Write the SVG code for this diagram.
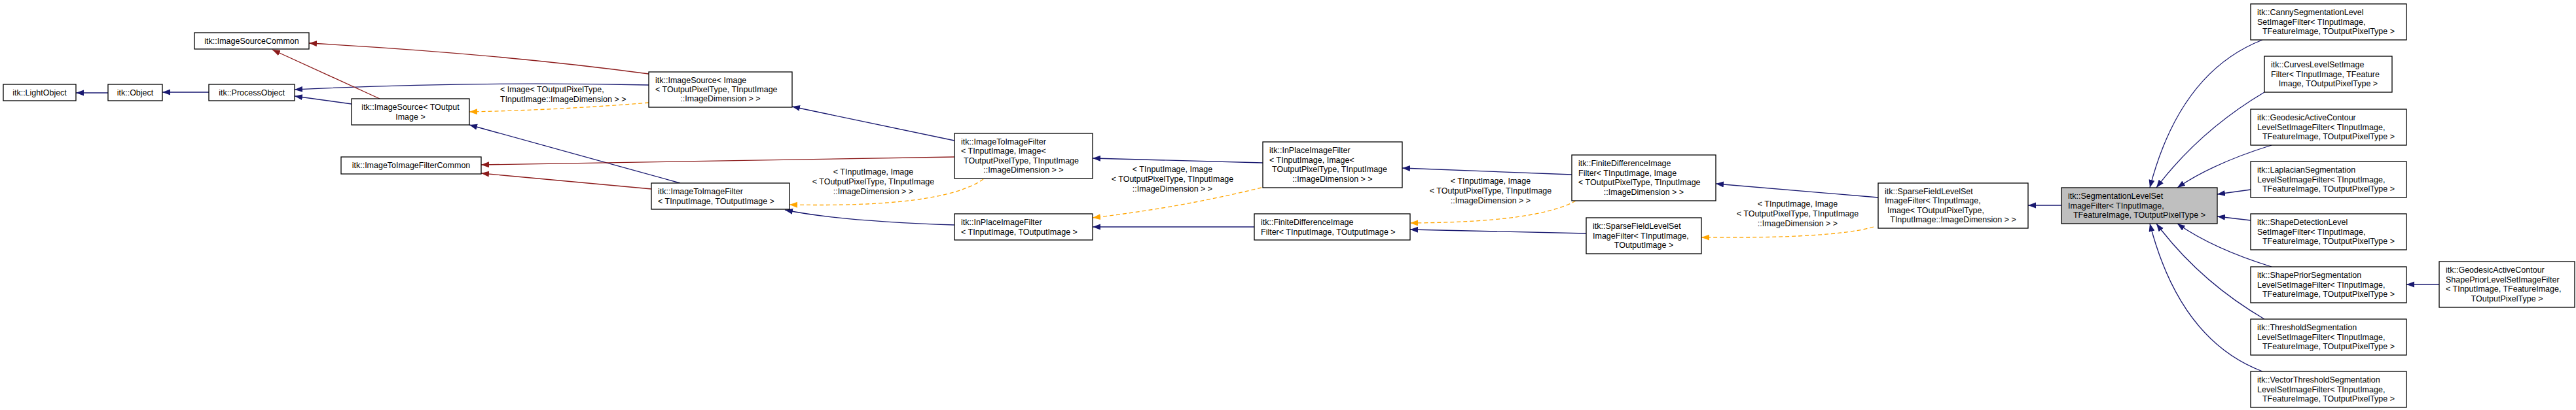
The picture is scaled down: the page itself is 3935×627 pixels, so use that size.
<svg xmlns="http://www.w3.org/2000/svg" width="3935" height="627" viewBox="0 0 3935 627">
<style>
.n rect{fill:#fff;stroke:#000;stroke-width:1.3}
.n.g rect{fill:#bfbfbf}
text{font-family:"Liberation Sans",Arial,sans-serif;font-size:12.5px;fill:#000}
.c{text-anchor:middle}
.b{fill:none;stroke:#191970;stroke-width:1.3}
.r{fill:none;stroke:#8b1a1a;stroke-width:1.3}
.o{fill:none;stroke:#ffa500;stroke-width:1.3;stroke-dasharray:6,4}
</style>
<defs>
<marker id="mb" markerUnits="userSpaceOnUse" markerWidth="13" markerHeight="10" refX="12" refY="4.5" orient="auto"><path d="M0,0 L12,4.5 L0,9 z" fill="#191970"/></marker>
<marker id="mr" markerUnits="userSpaceOnUse" markerWidth="13" markerHeight="10" refX="12" refY="4.5" orient="auto"><path d="M0,0 L12,4.5 L0,9 z" fill="#8b1a1a"/></marker>
<marker id="mo" markerUnits="userSpaceOnUse" markerWidth="13" markerHeight="10" refX="12" refY="4.5" orient="auto"><path d="M0,0 L12,4.5 L0,9 z" fill="#ffa500"/></marker>
</defs>
<rect width="3935" height="627" fill="#fff"/>
<g id="connectors">
<path class="b" marker-end="url(#mb)" d="M165,142 L116,142"/>
<path class="b" marker-end="url(#mb)" d="M319,141 L248,141"/>
<path class="b" marker-end="url(#mb)" d="M537,159 L450,147"/>
<path class="b" marker-end="url(#mb)" d="M991,130 Q720,124 450,137"/>
<path class="b" marker-end="url(#mb)" d="M1039,280 L717,191"/>
<path class="b" marker-end="url(#mb)" d="M1458,215 L1210,163"/>
<path class="b" marker-end="url(#mb)" d="M1458,344 Q1280,338 1199,321"/>
<path class="b" marker-end="url(#mb)" d="M1929,249 L1669,242"/>
<path class="b" marker-end="url(#mb)" d="M2401,267 L2142,257"/>
<path class="b" marker-end="url(#mb)" d="M1916,347 L1669,347"/>
<path class="b" marker-end="url(#mb)" d="M2423,357 L2154,351"/>
<path class="b" marker-end="url(#mb)" d="M2869,302 L2621,281"/>
<path class="b" marker-end="url(#mb)" d="M3149,314 L3098,314"/>
<path class="b" marker-end="url(#mb)" d="M3456,61 Q3330,110 3284,287"/>
<path class="b" marker-end="url(#mb)" d="M3459,141 Q3360,200 3294,287"/>
<path class="b" marker-end="url(#mb)" d="M3470,222 Q3380,250 3326,287"/>
<path class="b" marker-end="url(#mb)" d="M3438,290 L3387,297"/>
<path class="b" marker-end="url(#mb)" d="M3438,337 L3387,331"/>
<path class="b" marker-end="url(#mb)" d="M3470,408 Q3380,380 3326,342"/>
<path class="b" marker-end="url(#mb)" d="M3459,488 Q3360,430 3294,342"/>
<path class="b" marker-end="url(#mb)" d="M3456,568 Q3330,520 3284,342"/>
<path class="b" marker-end="url(#mb)" d="M3726,435 L3676,435"/>
<path class="r" marker-end="url(#mr)" d="M580,151 L416,76"/>
<path class="r" marker-end="url(#mr)" d="M991,113 Q760,82 472,66"/>
<path class="r" marker-end="url(#mr)" d="M1458,240 L735,252"/>
<path class="r" marker-end="url(#mr)" d="M995,289 L735,265"/>
<path class="o" marker-end="url(#mo)" d="M991,157 Q860,168 717,171"/>
<path class="o" marker-end="url(#mo)" d="M1502,274 Q1440,318 1206,313"/>
<path class="o" marker-end="url(#mo)" d="M1927,287 Q1800,318 1669,333"/>
<path class="o" marker-end="url(#mo)" d="M2407,307 Q2350,340 2154,341"/>
<path class="o" marker-end="url(#mo)" d="M2862,347 Q2800,365 2599,363"/>
<text x="764" y="141">&lt; Image&lt; TOutputPixelType,</text>
<text x="764" y="156">TInputImage::ImageDimension &gt; &gt;</text>
<text class="c" x="1334" y="267">&lt; TInputImage, Image</text>
<text class="c" x="1334" y="282">&lt; TOutputPixelType, TInputImage</text>
<text class="c" x="1334" y="297">::ImageDimension &gt; &gt;</text>
<text class="c" x="1791" y="263">&lt; TInputImage, Image</text>
<text class="c" x="1791" y="278">&lt; TOutputPixelType, TInputImage</text>
<text class="c" x="1791" y="293">::ImageDimension &gt; &gt;</text>
<text class="c" x="2277" y="281">&lt; TInputImage, Image</text>
<text class="c" x="2277" y="296">&lt; TOutputPixelType, TInputImage</text>
<text class="c" x="2277" y="311">::ImageDimension &gt; &gt;</text>
<text class="c" x="2746" y="316">&lt; TInputImage, Image</text>
<text class="c" x="2746" y="331">&lt; TOutputPixelType, TInputImage</text>
<text class="c" x="2746" y="346">::ImageDimension &gt; &gt;</text>
</g>
<g id="LightObject" class="n"><rect x="5" y="129" width="111" height="25"/><text class="c" x="60.5" y="146">itk::LightObject</text></g>
<g id="Object" class="n"><rect x="165" y="129" width="83" height="25"/><text class="c" x="206.5" y="146">itk::Object</text></g>
<g id="ProcessObject" class="n"><rect x="319" y="129" width="131" height="25"/><text class="c" x="384.5" y="146">itk::ProcessObject</text></g>
<g id="ImageSourceCommon" class="n"><rect x="297" y="50" width="175" height="25"/><text class="c" x="384.5" y="67">itk::ImageSourceCommon</text></g>
<g id="ImageSourceT" class="n"><rect x="537" y="151" width="180" height="40"/><text class="c" x="627" y="168">itk::ImageSource&lt; TOutput</text><text class="c" x="627" y="183">Image &gt;</text></g>
<g id="ImageToImageFilterCommon" class="n"><rect x="521" y="240" width="214" height="26"/><text class="c" x="628" y="257">itk::ImageToImageFilterCommon</text></g>
<g id="ImageSourceImage" class="n"><rect x="991" y="110" width="219" height="54"/><text x="1001" y="127">itk::ImageSource&lt; Image</text><text x="1001" y="141">&lt; TOutputPixelType, TInputImage</text><text class="c" x="1100.5" y="155">::ImageDimension &gt; &gt;</text></g>
<g id="ImageToImageFilterT" class="n"><rect x="995" y="280" width="211" height="40"/><text x="1005" y="297">itk::ImageToImageFilter</text><text x="1005" y="312">&lt; TInputImage, TOutputImage &gt;</text></g>
<g id="ImageToImageFilterImage" class="n"><rect x="1458" y="204" width="211" height="69"/><text x="1468" y="221">itk::ImageToImageFilter</text><text x="1468" y="235">&lt; TInputImage, Image&lt;</text><text x="1472" y="250">TOutputPixelType, TInputImage</text><text class="c" x="1563.5" y="264">::ImageDimension &gt; &gt;</text></g>
<g id="InPlaceT" class="n"><rect x="1458" y="327" width="211" height="40"/><text x="1468" y="344">itk::InPlaceImageFilter</text><text x="1468" y="359">&lt; TInputImage, TOutputImage &gt;</text></g>
<g id="InPlaceImage" class="n"><rect x="1929" y="217" width="213" height="70"/><text x="1939" y="234">itk::InPlaceImageFilter</text><text x="1939" y="249">&lt; TInputImage, Image&lt;</text><text x="1943" y="263">TOutputPixelType, TInputImage</text><text class="c" x="2035.5" y="278">::ImageDimension &gt; &gt;</text></g>
<g id="FiniteDiffT" class="n"><rect x="1916" y="327" width="238" height="40"/><text x="1926" y="344">itk::FiniteDifferenceImage</text><text x="1926" y="359">Filter&lt; TInputImage, TOutputImage &gt;</text></g>
<g id="FiniteDiffImage" class="n"><rect x="2401" y="237" width="220" height="70"/><text x="2411" y="254">itk::FiniteDifferenceImage</text><text x="2411" y="269">Filter&lt; TInputImage, Image</text><text x="2411" y="283">&lt; TOutputPixelType, TInputImage</text><text class="c" x="2511" y="298">::ImageDimension &gt; &gt;</text></g>
<g id="SparseFieldT" class="n"><rect x="2423" y="333" width="176" height="55"/><text x="2433" y="350">itk::SparseFieldLevelSet</text><text x="2433" y="365">ImageFilter&lt; TInputImage,</text><text class="c" x="2511" y="379">TOutputImage &gt;</text></g>
<g id="SparseFieldImage" class="n"><rect x="2869" y="280" width="229" height="69"/><text x="2879" y="297">itk::SparseFieldLevelSet</text><text x="2879" y="311">ImageFilter&lt; TInputImage,</text><text x="2883" y="326">Image&lt; TOutputPixelType,</text><text class="c" x="2983.5" y="340">TInputImage::ImageDimension &gt; &gt;</text></g>
<g id="SegmentationLevelSet" class="n g"><rect x="3149" y="287" width="238" height="55"/><text x="3159" y="304">itk::SegmentationLevelSet</text><text x="3159" y="319">ImageFilter&lt; TInputImage,</text><text class="c" x="3268" y="333">TFeatureImage, TOutputPixelType &gt;</text></g>
<g id="Canny" class="n"><rect x="3438" y="6" width="238" height="55"/><text x="3448" y="23">itk::CannySegmentationLevel</text><text x="3448" y="38">SetImageFilter&lt; TInputImage,</text><text class="c" x="3557" y="52">TFeatureImage, TOutputPixelType &gt;</text></g>
<g id="Curves" class="n"><rect x="3459" y="86" width="195" height="55"/><text x="3469" y="103">itk::CurvesLevelSetImage</text><text x="3469" y="118">Filter&lt; TInputImage, TFeature</text><text class="c" x="3556.5" y="132">Image, TOutputPixelType &gt;</text></g>
<g id="Geodesic" class="n"><rect x="3438" y="167" width="238" height="55"/><text x="3448" y="184">itk::GeodesicActiveContour</text><text x="3448" y="199">LevelSetImageFilter&lt; TInputImage,</text><text class="c" x="3557" y="213">TFeatureImage, TOutputPixelType &gt;</text></g>
<g id="Laplacian" class="n"><rect x="3438" y="247" width="238" height="55"/><text x="3448" y="264">itk::LaplacianSegmentation</text><text x="3448" y="279">LevelSetImageFilter&lt; TInputImage,</text><text class="c" x="3557" y="293">TFeatureImage, TOutputPixelType &gt;</text></g>
<g id="ShapeDetection" class="n"><rect x="3438" y="327" width="238" height="55"/><text x="3448" y="344">itk::ShapeDetectionLevel</text><text x="3448" y="359">SetImageFilter&lt; TInputImage,</text><text class="c" x="3557" y="373">TFeatureImage, TOutputPixelType &gt;</text></g>
<g id="ShapePrior" class="n"><rect x="3438" y="408" width="238" height="55"/><text x="3448" y="425">itk::ShapePriorSegmentation</text><text x="3448" y="440">LevelSetImageFilter&lt; TInputImage,</text><text class="c" x="3557" y="454">TFeatureImage, TOutputPixelType &gt;</text></g>
<g id="Threshold" class="n"><rect x="3438" y="488" width="238" height="55"/><text x="3448" y="505">itk::ThresholdSegmentation</text><text x="3448" y="520">LevelSetImageFilter&lt; TInputImage,</text><text class="c" x="3557" y="534">TFeatureImage, TOutputPixelType &gt;</text></g>
<g id="VectorThreshold" class="n"><rect x="3438" y="568" width="238" height="55"/><text x="3448" y="585">itk::VectorThresholdSegmentation</text><text x="3448" y="600">LevelSetImageFilter&lt; TInputImage,</text><text class="c" x="3557" y="614">TFeatureImage, TOutputPixelType &gt;</text></g>
<g id="GeodesicShapePrior" class="n"><rect x="3726" y="400" width="207" height="70"/><text x="3736" y="417">itk::GeodesicActiveContour</text><text x="3736" y="432">ShapePriorLevelSetImageFilter</text><text x="3736" y="446">&lt; TInputImage, TFeatureImage,</text><text class="c" x="3829.5" y="461">TOutputPixelType &gt;</text></g>
</svg>
